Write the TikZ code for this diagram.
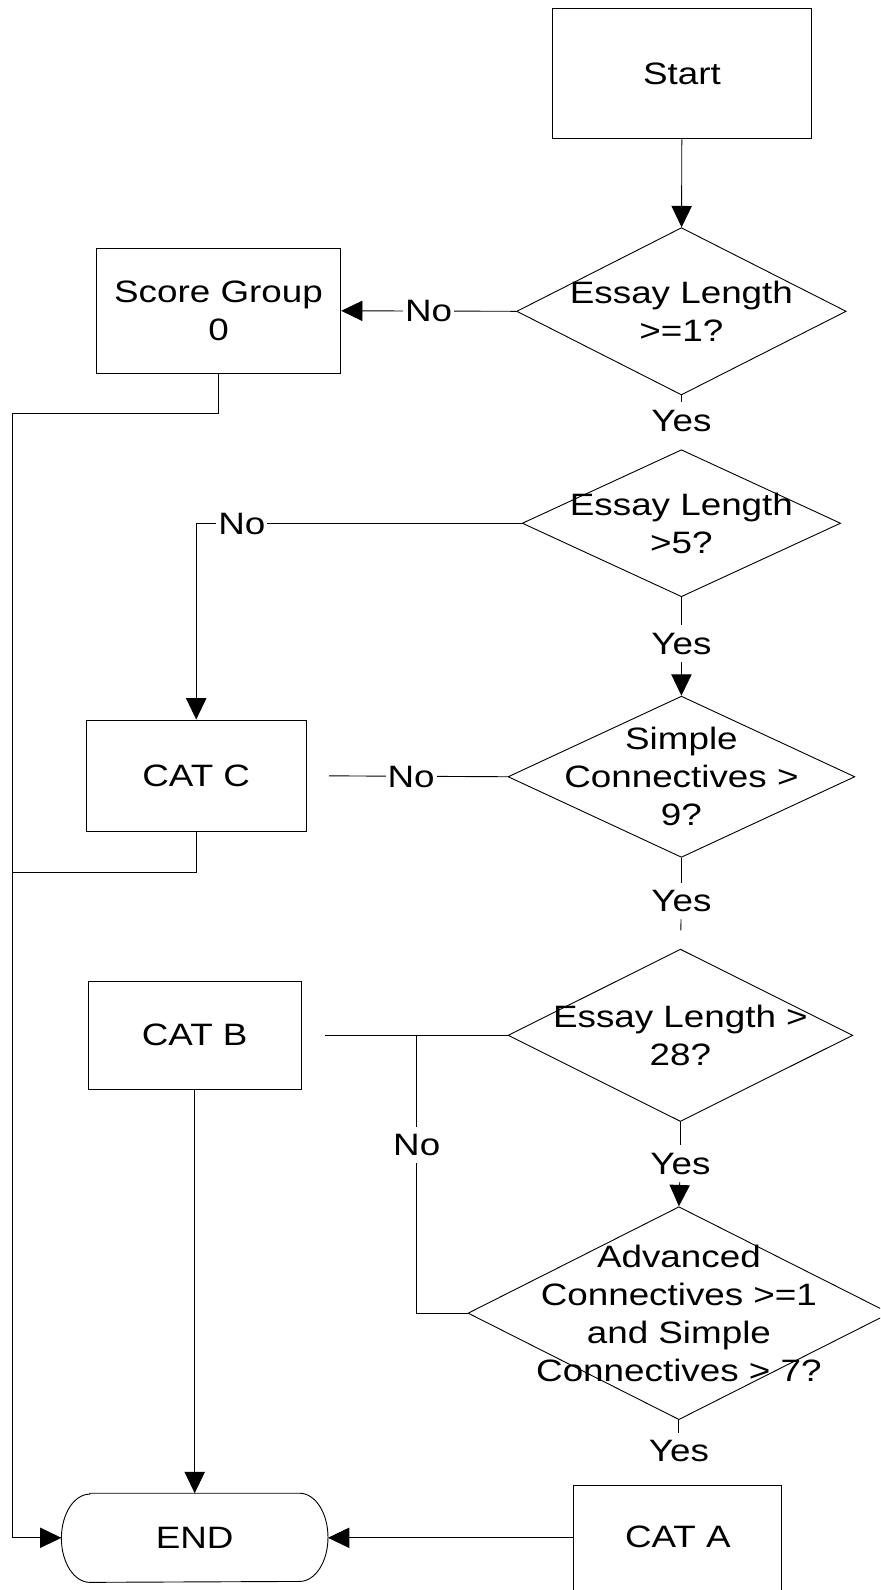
\documentclass[tikz,border=0pt]{standalone}
\usepackage{fontspec}
\setmainfont{Liberation Sans}[FakeStretch=1.19]
\usetikzlibrary{arrows.meta,shapes.geometric}
\tikzset{
  box/.style={draw, rectangle, inner sep=0pt, align=center},
  decision/.style={draw, diamond, inner sep=0pt},
  terminal/.style={rectangle, inner sep=0pt},
  lbl/.style={fill=white, inner xsep=2pt, inner ysep=7pt, text height=21.5pt, text depth=0pt},
  arr/.style={-{Triangle[length=21pt,width=20pt]}},
  dtext/.style={label={[align=center]center:#1}}
}
\begin{document}
\begin{tikzpicture}[x=1pt, y=-1pt, font=\fontsize{30.5}{37.6}\selectfont, line width=0.9pt]
\useasboundingbox (0,0) rectangle (868,1568);
\clip (0,0) rectangle (868,1568);

% boxes and decisions
\node[box, minimum width=255pt, minimum height=129pt] (start) at (672.5,72.5) {Start};
\node[decision, minimum width=325pt, minimum height=165pt, dtext={Essay Length\\>=1?}] (d1) at (672,307) {};
\node[box, minimum width=241pt, minimum height=123pt] (sg0) at (215.5,306.5) {Score Group\\0};
\node[decision, minimum width=314pt, minimum height=145pt, dtext={Essay Length\\>5?}] (d2) at (672,516) {};
\node[decision, minimum width=342pt, minimum height=159pt, dtext={Simple\\Connectives >\\9?}] (d3) at (672,766) {};
\node[box, minimum width=217pt, minimum height=110pt] (catc) at (193.5,765) {CAT C};
\node[decision, minimum width=340pt, minimum height=170pt, dtext={Essay Length >\\28?}] (d4) at (671,1021) {};
\node[box, minimum width=210pt, minimum height=106pt] (catb) at (192,1021) {CAT B};
\node[decision, minimum width=416pt, minimum height=210pt, dtext={Advanced\\Connectives >=1\\and Simple\\Connectives > 7?}] (d5) at (669.5,1295) {};
\node[terminal, minimum width=262pt, minimum height=87pt] (finish) at (192,1516.5) {END};
\node[box, minimum width=205pt, minimum height=120pt, label={[yshift=9pt]center:CAT A}] (cata) at (668.5,1525) {};

% terminal outline with elliptic ends
\draw ([xshift=28pt]finish.north west) -- ([xshift=-28pt]finish.north east)
  arc[start angle=90, end angle=-90, x radius=28pt, y radius=43.5pt]
  -- ([xshift=28pt]finish.south west)
  arc[start angle=270, end angle=90, x radius=28pt, y radius=43.5pt] -- cycle;

% branch labels
\node[lbl] (yes1) at (672,414.5) {Yes};
\node[lbl] (yes2) at (672,635) {Yes};
\node[lbl] (yes3) at (672,888.5) {Yes};
\node[lbl] (yes4) at (671,1147.5) {Yes};
\node[lbl] (yes5) at (669.5,1431) {Yes};

% routing points
\coordinate (l1) at (12,408);
\coordinate (l2) at (12,860);
\coordinate (j4) at (411,1021);

% connectors
\draw[arr] (start) -- (d1);
\draw[arr] (d1.west) -- node[lbl]{No} (sg0.east);
\draw[arr] (sg0.south) |- (l1) |- (finish.west);
\draw (d1.south) -- (yes1);

\draw[arr] (d2.west) -| node[lbl, pos=0.43]{No} (catc.north);
\draw (d2.south) -- (yes2);
\draw[arr] (yes2) -- (d3.north);

\draw[shorten >=22pt] (d3.west) -- node[lbl, pos=0.48]{No} (catc.east);
\draw (catc.south) |- (l2);
\draw (d3.south) -- (yes3);
\draw[shorten >=18pt] (yes3) -- (d4.north);

\draw[shorten >=23pt] (d4.west) -- (catb.east);
\draw (j4) |- node[lbl, pos=0.197]{No} (d5.west);
\draw (d4.south) -- (yes4);
\draw[arr] (yes4) -- (d5.north);

\draw[arr] (catb) -- (finish);
\draw (d5.south) -- (yes5);
\draw[arr] (finish.east -| cata.west) -- (finish.east);
\end{tikzpicture}
\end{document}
